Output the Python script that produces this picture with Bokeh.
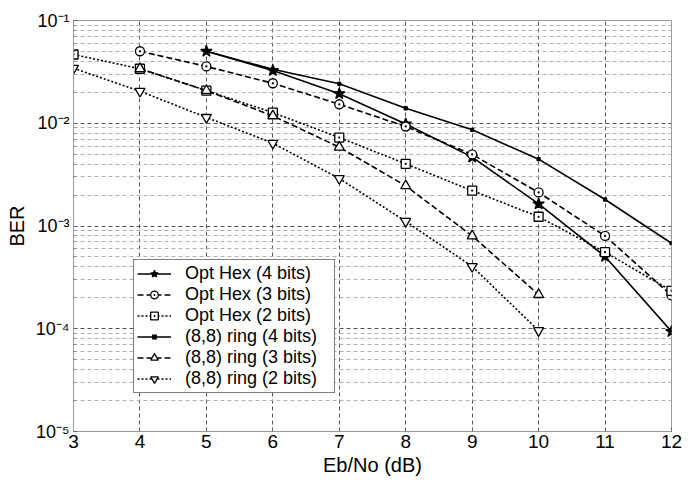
from bokeh.plotting import figure
from bokeh.models import FixedTicker, Legend, LegendItem
from bokeh.embed import file_html
from bokeh.resources import INLINE

# Data
ebno = [3, 4, 5, 6, 7, 8, 9, 10, 11, 12]

opt_hex_4_x = [5, 6, 7, 8, 9, 10, 11, 12]
opt_hex_4 = [0.0502, 0.0326, 0.0194, 0.00985, 0.00468, 0.00164, 0.000505, 9.4e-5]

opt_hex_3_x = [4, 5, 6, 7, 8, 9, 10, 11, 12]
opt_hex_3 = [0.0502, 0.0357, 0.0245, 0.0153, 0.0093, 0.00497, 0.00212, 0.0008, 0.000211]

opt_hex_2_x = [3, 4, 5, 6, 7, 8, 9, 10, 11, 12]
opt_hex_2 = [0.0467, 0.0339, 0.0208, 0.0127, 0.00726, 0.00403, 0.00221, 0.00123, 0.000556, 0.000234]

ring_4_x = [5, 6, 7, 8, 9, 10, 11, 12]
ring_4 = [0.0502, 0.0335, 0.0242, 0.0140, 0.00863, 0.00447, 0.00181, 0.00068]

ring_3_x = [4, 5, 6, 7, 8, 9, 10]
ring_3 = [0.034, 0.0208, 0.0118, 0.00585, 0.00246, 0.0008, 0.000215]

ring_2_x = [3, 4, 5, 6, 7, 8, 9, 10]
ring_2 = [0.0343, 0.0205, 0.0114, 0.0064, 0.0029, 0.00111, 0.000404, 9.6e-5]

labels = ["Opt Hex (4 bits)", "Opt Hex (3 bits)", "Opt Hex (2 bits)",
          "(8,8) ring (4 bits)", "(8,8) ring (3 bits)", "(8,8) ring (2 bits)"]

y_decades = [1e-5, 1e-4, 1e-3, 1e-2, 1e-1]
y_tick_labels = ["10⁻⁵", "10⁻⁴", "10⁻³", "10⁻²", "10⁻¹"]

FONT = "Liberation Sans"

p = figure(width=697, height=483, x_range=(3, 12), y_range=(1e-5, 1e-1),
           y_axis_type="log", output_backend="svg", toolbar_location=None,
           min_border_left=73, min_border_right=26, min_border_top=20,
           min_border_bottom=52)
p.background_fill_color = "white"
p.border_fill_color = "white"
p.outline_line_color = "#9a9a9a"
p.outline_line_width = 1

# axes
p.xaxis.ticker = FixedTicker(ticks=ebno)
minor = [m * 10.0 ** e for e in range(-5, -1) for m in range(2, 10)]
p.yaxis.ticker = FixedTicker(ticks=y_decades, minor_ticks=minor)
p.yaxis.major_label_overrides = {v: s for v, s in zip(y_decades, y_tick_labels)}
for ax in (p.xaxis[0], p.yaxis[0]):
    ax.axis_line_color = "#9a9a9a"
    ax.major_tick_in = 4
    ax.major_tick_out = 0
    ax.minor_tick_in = 2
    ax.minor_tick_out = 0
    ax.major_tick_line_color = "#666666"
    ax.minor_tick_line_color = "#888888"
    ax.major_label_text_font = FONT
    ax.major_label_text_color = "black"
    ax.axis_label_text_font = FONT
    ax.axis_label_text_font_size = "20px"
    ax.axis_label_text_font_style = "normal"
    ax.axis_label_text_color = "black"
p.xaxis.major_label_text_font_size = "19px"
p.yaxis.major_label_text_font_size = "18px"
p.xaxis.axis_label = "Eb/No (dB)"
p.yaxis.axis_label = "BER"
p.xaxis.major_label_standoff = 3
p.xaxis.axis_label_standoff = 3
p.yaxis.major_label_standoff = 4
p.yaxis.axis_label_standoff = 5

# grid
p.xgrid.grid_line_color = "#555555"
p.xgrid.grid_line_dash = "4 3"
p.ygrid.grid_line_color = "#555555"
p.ygrid.grid_line_dash = "4 3"
p.ygrid.minor_grid_line_color = "#b0b0b0"
p.ygrid.minor_grid_line_dash = "4 3"

items = []

def series(x, y, label, dash, marker, size, fill, lw=1.6, legend_marker=None):
    dr = None
    if legend_marker is not None:
        # marker used only for the legend swatch (zero size on the plot)
        dr = p.scatter(x, y, marker=legend_marker, size=0, fill_color="black",
                       line_color="white", line_width=2.8)
    lr = p.line(x, y, line_color="black", line_width=lw, line_dash=dash)
    sr = p.scatter(x, y, marker=marker, size=size, line_color="black",
                   fill_color=fill, line_width=1.3)
    if dr is None:
        items.append(LegendItem(label=label, renderers=[lr, sr]))
    else:
        items.append(LegendItem(label=label, renderers=[dr, lr]))

series(opt_hex_4_x, opt_hex_4, labels[0], "solid", "star", 12, "black")
series(opt_hex_3_x, opt_hex_3, labels[1], "6 3", "circle_dot", 9, "white")
series(opt_hex_2_x, opt_hex_2, labels[2], "2 2", "square_dot", 9, "white")
series(ring_4_x, ring_4, labels[3], "solid", "square", 3, "black", legend_marker="square")
series(ring_3_x, ring_3, labels[4], "6 3", "triangle", 10, "white")
series(ring_2_x, ring_2, labels[5], "2 2", "inverted_triangle", 10, "white")

legend = Legend(items=items, location=(60, 38))
legend.label_text_font = FONT
legend.label_text_font_size = "18px"
legend.label_text_color = "black"
legend.label_height = 19
legend.glyph_height = 19
legend.glyph_width = 34
legend.label_standoff = 14
legend.label_width = 146
legend.spacing = 0
legend.padding = 3
legend.margin = 0
legend.border_line_color = "black"
legend.border_line_width = 1
legend.background_fill_color = "white"
legend.background_fill_alpha = 1.0
p.add_layout(legend, "center")

open("out.html", "w").write(file_html(p, INLINE))
